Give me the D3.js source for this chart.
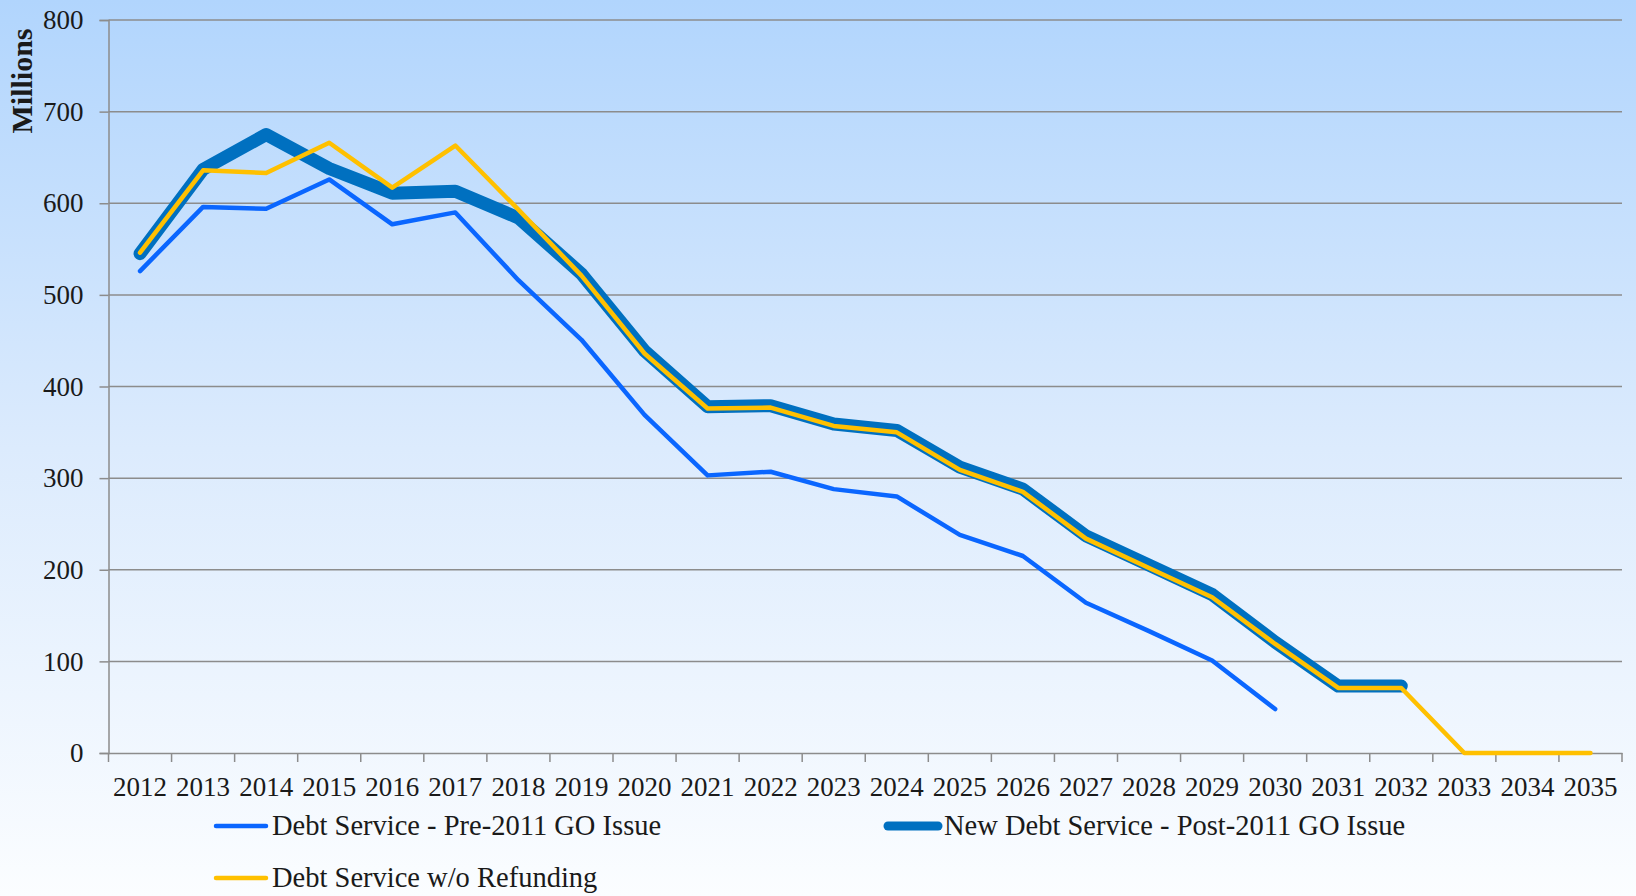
<!DOCTYPE html>
<html>
<head>
<meta charset="utf-8">
<script src="https://cdn.jsdelivr.net/npm/d3@7"></script>
<style>
  html, body { margin: 0; padding: 0; }
  body { width: 1636px; height: 896px; overflow: hidden; }
  svg { display: block; }
</style>
</head>
<body>
<svg id="chart" width="1636" height="896"></svg>
<script>
const years = ["2012","2013","2014","2015","2016","2017","2018","2019","2020","2021","2022","2023",
  "2024","2025","2026","2027","2028","2029","2030","2031","2032","2033","2034","2035"];
const yTicks = [0, 100, 200, 300, 400, 500, 600, 700, 800];
const preIssue = [526, 596, 594, 626, 577, 590, 516, 451, 369, 303, 307, 288, 280, 238, 215, 164, 133, 101, 48,
  null, null, null, null, null];
const newIssue = [545, 637, 675, 638, 611, 613, 584, 523, 439, 378, 379, 359, 352, 312, 288, 237, 205, 173, 121, 73, 73,
  null, null, null];
const noRefund = [546, 636, 633, 666, 617, 663, 593, 521, 436, 376, 377, 357, 350, 309, 285, 234, 202, 170, 119, 71, 71, 0, 0, 0];
const seriesNames = ["Debt Service - Pre-2011 GO Issue", "New Debt Service - Post-2011 GO Issue", "Debt Service w/o Refunding"];

(function () {
const svg = d3.select("#chart");
const W = 1636, H = 896;
const FONT = "'Liberation Serif', 'DejaVu Serif', serif";

const defs = svg.append("defs");
const grad = defs.append("linearGradient").attr("id", "bg").attr("x1", 0).attr("y1", 0).attr("x2", 0).attr("y2", 1);
grad.append("stop").attr("offset", "0%").attr("stop-color", "#b1d5fd");
grad.append("stop").attr("offset", "50%").attr("stop-color", "#dcebfd");
grad.append("stop").attr("offset", "100%").attr("stop-color", "#fbfdff");
svg.append("rect").attr("width", W).attr("height", H).attr("fill", "url(#bg)");

const pLeft = 108.5, pRight = 1622, pTop = 20, pBottom = 753;
const x = d3.scaleBand().domain(years).range([pLeft, pRight]).padding(0);
const y = d3.scaleLinear().domain([0, 800]).range([pBottom, pTop]);

const gridColor = "#8c8c8c";

svg.append("g").selectAll("line").data(yTicks.filter(d => d > 0)).join("line")
  .attr("x1", pLeft).attr("x2", pRight)
  .attr("y1", d => y(d)).attr("y2", d => y(d))
  .attr("stroke", gridColor).attr("stroke-width", 1.5);

const yAxis = svg.append("g").attr("transform", `translate(${pLeft},0)`)
  .call(d3.axisLeft(y).tickValues(yTicks).tickSize(9).tickPadding(16));
yAxis.select(".domain").attr("stroke", gridColor).attr("stroke-width", 1.5);
yAxis.selectAll(".tick line").attr("stroke", gridColor).attr("stroke-width", 1.5);
yAxis.selectAll(".tick text").attr("font-family", FONT).attr("font-size", 27).attr("fill", "#1a1a1a");

const xAxis = svg.append("g").attr("transform", `translate(0,${pBottom})`)
  .call(d3.axisBottom(x).tickSize(0).tickPadding(24));
xAxis.select(".domain").attr("stroke", gridColor).attr("stroke-width", 1.5);
xAxis.selectAll(".tick text").attr("font-family", FONT).attr("font-size", 27).attr("fill", "#1a1a1a");
const bounds = years.map(d => x(d)).concat([x(years[years.length - 1]) + x.bandwidth()]);
svg.append("g").selectAll("line").data(bounds).join("line")
  .attr("x1", d => d).attr("x2", d => d)
  .attr("y1", pBottom).attr("y2", pBottom + 9)
  .attr("stroke", gridColor).attr("stroke-width", 1.5);

svg.append("text")
  .attr("transform", `translate(21,${81}) rotate(-90)`)
  .attr("text-anchor", "middle").attr("dy", "0.35em")
  .attr("font-family", FONT).attr("font-weight", "bold").attr("font-size", 30)
  .attr("fill", "#1a1a1a")
  .text("Millions");

const cx = d => x(d) + x.bandwidth() / 2;
const line = vals => d3.line()
  .defined((d, i) => vals[i] !== null)
  .x((d, i) => cx(years[i]))
  .y((d, i) => y(vals[i]))(vals);

const styles = [
  { vals: preIssue, color: "#0a66ff", w: 4.5 },
  { vals: newIssue, color: "#0070c0", w: 13 },
  { vals: noRefund, color: "#ffc000", w: 4.5 }
];
styles.forEach(s => {
  svg.append("path")
    .attr("d", line(s.vals))
    .attr("fill", "none")
    .attr("stroke", s.color)
    .attr("stroke-width", s.w)
    .attr("stroke-linejoin", "round")
    .attr("stroke-linecap", "round");
});

const legendItems = [
  { name: seriesNames[0], color: "#0a66ff", w: 4.5, x: 216, y: 826 },
  { name: seriesNames[1], color: "#0070c0", w: 9, x: 888, y: 826 },
  { name: seriesNames[2], color: "#ffc000", w: 4.5, x: 216, y: 878 }
];
const lg = svg.append("g").selectAll("g").data(legendItems).join("g")
  .attr("transform", d => `translate(${d.x},${d.y})`);
lg.append("line").attr("x1", 0).attr("x2", 50).attr("y1", 0).attr("y2", 0)
  .attr("stroke", d => d.color).attr("stroke-width", d => d.w).attr("stroke-linecap", "round");
lg.append("text").attr("x", 56).attr("y", 0).attr("dy", "0.33em")
  .attr("font-family", FONT).attr("font-size", 28.5).attr("fill", "#1a1a1a")
  .text(d => d.name);
})();
</script>
</body>
</html>
